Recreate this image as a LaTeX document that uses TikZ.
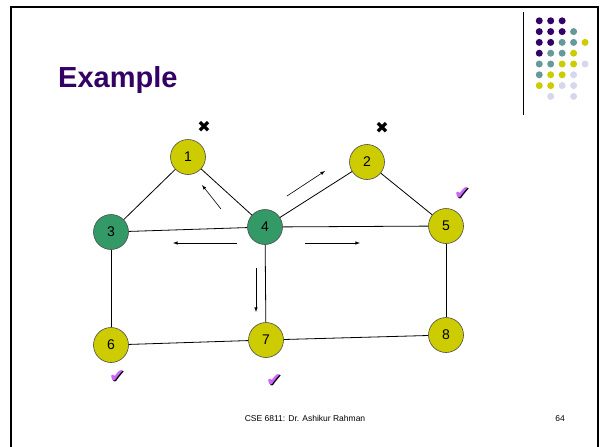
\documentclass[tikz,border=0pt]{standalone}
\usepackage{fontspec}
\setmainfont{Liberation Sans}
\newfontfamily\symfont{DejaVu Sans}
\usetikzlibrary{arrows}

\definecolor{dp}{RGB}{51,0,102}
\definecolor{dt}{RGB}{102,153,153}
\definecolor{dy}{RGB}{204,204,0}
\definecolor{dl}{RGB}{214,214,236}
\definecolor{nodegreen}{RGB}{51,153,102}
\definecolor{tickviolet}{RGB}{204,102,255}

% check mark with a dark drop shadow
\newcommand{\tickmark}{\rlap{\kern1.2pt\raisebox{-1.2pt}{\color{black}✔}}{\color{tickviolet}✔}}

\begin{document}
\begin{tikzpicture}[x=1pt, y=-1pt,
  vertex/.style={circle, draw=black!70, line width=0.6pt, minimum size=35pt, inner sep=0pt, font=\fontsize{14}{14}\selectfont},
  idle/.style={vertex, fill=dy},
  active/.style={vertex, fill=nodegreen},
  link/.style={line width=0.8pt},
  msg/.style={-latex, line width=0.6pt},
  symb/.style={inner sep=0pt, font=\symfont\fontsize{16}{16}\selectfont}]
  \useasboundingbox (0,0) rectangle (600,447);

  % slide frame and corner dots
  \draw[line width=1.8pt] (11,447) -- (11,7) -- (598,7) -- (598,447);
  \draw[line width=0.8pt] (523,12) -- (523,115);
  \foreach \dots [count=\j] in {{dp,dp,dp},{dp,dp,dp,dt},{dp,dp,dt,dt,dy},{dp,dt,dt,dy},
      {dt,dt,dy,dy,dl},{dt,dy,dy,dl},{dy,dy,dl,dl},{none,dl,none,dl}}
    \foreach \c [count=\i] in \dots
      \path[fill=\c] (527.8+11.45*\i, 10+10.8*\j) circle (3.5pt);

  \node[anchor=base west, inner sep=0pt, text=dp, font=\fontsize{29}{29}\selectfont\bfseries] (title) at (58,87) {Example};

  \node[idle]   (n1) at (188,157) {1};
  \node[idle]   (n2) at (367,162) {2};
  \node[active] (n3) at (111,232) {3};
  \node[active] (n4) at (265,227) {4};
  \node[idle]   (n5) at (446,226) {5};
  \node[idle]   (n6) at (111,345) {6};
  \node[idle]   (n7) at (266,340) {7};
  \node[idle]   (n8) at (446,335) {8};

  \path[link]
  (n3) edge (n1) edge (n4) edge (n6)
  (n4) edge (n1) edge (n2) edge (n5) edge (n7)
  (n5) edge (n2) edge (n8)
  (n7) edge (n6) edge (n8);

  % messages sent out by 4
  \coordinate (up1)  at (221,209); \coordinate (up2)  at (202,185);
  \coordinate (ur1)  at (287,196); \coordinate (ur2)  at (325,171);
  \coordinate (lt1)  at (237,243); \coordinate (lt2)  at (173,243);
  \coordinate (rt1)  at (305,243); \coordinate (rt2)  at (360,243);
  \coordinate (dn1)  at (256,268); \coordinate (dn2)  at (256,312);
  \draw[msg] (up1) -- (up2);
  \draw[msg] (ur1) -- (ur2);
  \draw[msg] (lt1) -- (lt2);
  \draw[msg] (rt1) -- (rt2);
  \draw[msg] (dn1) -- (dn2);

  \node[symb] (x1) at (204,127) {✖};
  \node[symb] (x2) at (382,128) {✖};
  \node[symb, font=\symfont\fontsize{19}{19}\selectfont] (c5) at (462,194) {\tickmark};
  \node[symb, font=\symfont\fontsize{19}{19}\selectfont] (c6) at (117,377) {\tickmark};
  \node[symb, font=\symfont\fontsize{19}{19}\selectfont] (c7) at (274,381) {\tickmark};

  \node[anchor=base, font=\fontsize{8.5}{8.5}\selectfont] (foot) at (305,421) {CSE 6811: Dr. Ashikur Rahman};
  \node[anchor=base, font=\fontsize{8.5}{8.5}\selectfont] (page) at (560,421) {64};
\end{tikzpicture}
\end{document}
